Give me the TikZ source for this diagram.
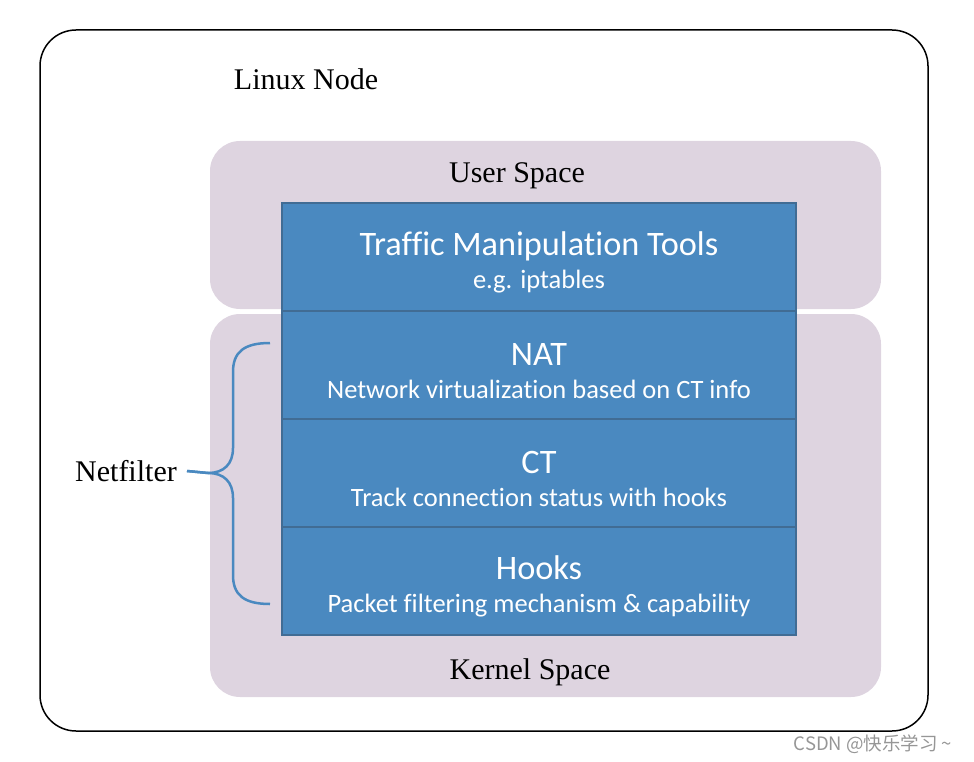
\documentclass[tikz,border=0pt]{standalone}
\usepackage{fontspec}
\setmainfont{Liberation Serif}
\newfontfamily\calibri[Ligatures=NoCommon]{Carlito}
\newfontfamily\cjk{Noto Sans CJK SC}
\usetikzlibrary{positioning}
\definecolor{spacemauve}{RGB}{222,212,224}
\definecolor{layerblue}{RGB}{74,137,192}
\definecolor{layerborder}{RGB}{65,108,148}
\definecolor{markgray}{RGB}{150,150,150}
\newcommand{\layertext}[2]{\rule{0pt}{34pt}{\fontsize{34.3}{36}\selectfont #1}\\[3pt]#2}

\begin{document}
\begin{tikzpicture}[
    x=1pt, y=-1pt,
    space/.style={fill=spacemauve, rounded corners=30pt},
    caption/.style={inner sep=0pt, font=\fontsize{30}{36}\selectfont},
    layer/.style={rectangle, draw=layerborder, line width=1.2pt, fill=layerblue, minimum width=514pt, minimum height=108pt, inner sep=0pt, outer sep=0pt, text=white, align=center, font=\calibri\fontsize{26.5}{30}\selectfont},
    brace/.style={draw=layerblue, line width=2.5pt}
]
    \useasboundingbox (0,0) rectangle (974,762);

    % linux node frame
    \draw[line width=1.5pt, rounded corners=36pt] (40,30) rectangle (928,731);
    \node[caption] (linuxnode) at (306,79) {Linux Node};

    % user and kernel space
    \fill[space] (210,141) rectangle (881,309);
    \fill[space] (210,314) rectangle (881,697);
    \node[caption] (userspace) at (517,176) {User Space};
    \node[caption] (kernelspace) at (530,672) {Kernel Space};

    % layer stack
    \node[layer] (tools) at (539,257) {\layertext{Traffic Manipulation Tools}{e.g. iptables}};
    \node[layer, below=0pt of tools] (nat) {\layertext{NAT}{Network virtualization based on CT info}};
    \node[layer, below=0pt of nat] (ct) {\layertext{CT}{Track connection status with hooks}};
    \node[layer, below=0pt of ct] (hooks) {\layertext{Hooks}{Packet filtering mechanism \& capability}};

    % netfilter brace
    \node[caption, anchor=east, inner xsep=10pt] (netfilter) at (187,471) {Netfilter};
    \coordinate (bracetop) at (270,343);
    \coordinate (bracebot) at (270,604);
    \draw[brace] (netfilter.east) -- (208,473)
        .. controls (224,473) and (233,464) .. (233,448) -- (233,372)
        .. controls (233,352) and (244,343) .. (bracetop);
    \draw[brace] (netfilter.east) -- (208,473)
        .. controls (224,473) and (233,482) .. (233,498) -- (233,575)
        .. controls (233,595) and (244,604) .. (bracebot);

    \node[text=markgray, font=\cjk\fontsize{18.5}{20}\selectfont] (watermark) at (873,744) {CSDN @快乐学习 \textasciitilde};
\end{tikzpicture}
\end{document}
